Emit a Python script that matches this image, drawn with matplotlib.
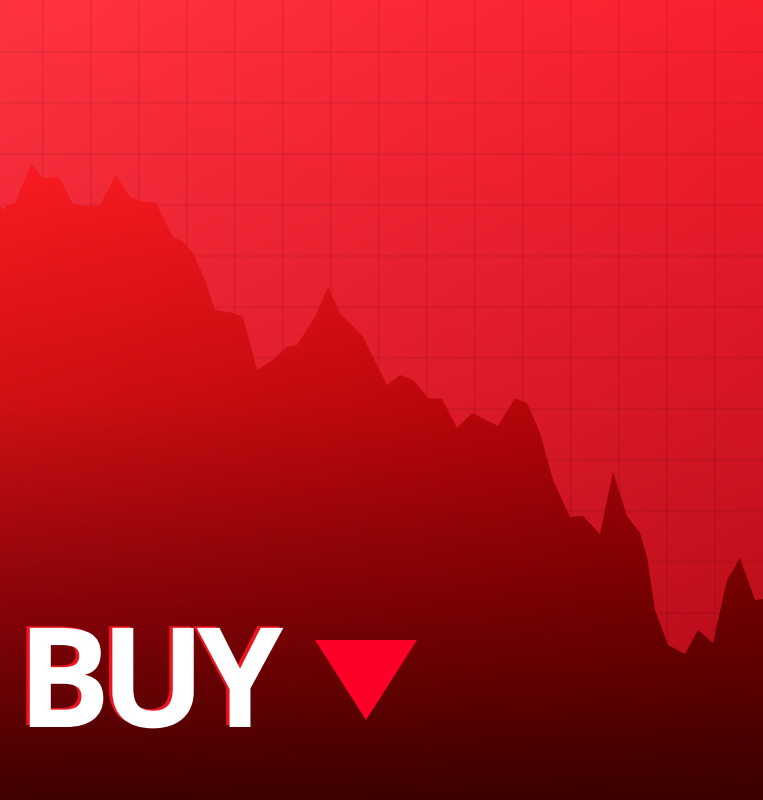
import numpy as np
import matplotlib
matplotlib.use('Agg')
import matplotlib.pyplot as plt
from matplotlib.patches import Polygon
import matplotlib.patheffects as pe

# ──────────────────────── DATA ─────────────────────────
# time axis (pixel-like units) and price level (0 at bottom, 800 at top)
t = [0, 3, 7, 15, 31, 43, 59, 73, 82, 100, 116, 130, 140, 156, 173, 182, 193,
     205, 215, 233, 243, 257, 273, 287, 297, 315, 328, 340, 350, 363, 373, 387,
     400, 413, 428, 442, 457, 472, 498, 515, 527, 540, 553, 570, 583, 600, 613,
     627, 640, 647, 655, 668, 685, 698, 713, 727, 740, 755, 763]
price = [595, 590, 595, 597, 636, 622, 623, 596, 594, 595, 625, 603, 599, 597,
         563, 559, 547, 520, 490, 487, 483, 430, 440, 453, 455, 483, 513, 487,
         477, 463, 443, 415, 425, 420, 402, 401, 372, 387, 374, 402, 397, 367,
         320, 283, 284, 266, 328, 284, 267, 243, 190, 155, 146, 170, 157, 220,
         242, 200, 201]

label = 'BUY'

W, H = 763, 800
grid_x = np.arange(43, W, 48)
grid_y = np.arange(748, 0, -51)

# gradient stops: (row from top, (r, g, b)) on left and right edges
bg_left = [(0, (255, 52, 66)), (400, (232, 35, 50)), (800, (200, 20, 35))]
bg_right = [(0, (250, 32, 48)), (400, (212, 22, 36)), (800, (172, 8, 20))]
area_left = [(160, (250, 28, 34)), (400, (208, 17, 21)), (600, (138, 4, 9)), (800, (62, 0, 0))]
area_right = [(160, (228, 16, 24)), (400, (172, 0, 6)), (600, (112, 0, 0)), (800, (58, 0, 0))]

# letter centres of the label, and the arrow triangle
letter_x = [64, 153, 240]
text_baseline = 73
arrow = [[315, 160], [417, 160], [366, 80]]


def edge_colors(stops):
    rows = np.arange(H)
    ys = [s[0] for s in stops]
    cols = np.array([s[1] for s in stops], dtype=float)
    return np.stack([np.interp(rows, ys, cols[:, c]) for c in range(3)], axis=1)


def gradient_image(left_stops, right_stops):
    left = edge_colors(left_stops)
    right = edge_colors(right_stops)
    frac = np.linspace(0, 1, W)[None, :, None]
    img = left[:, None, :] * (1 - frac) + right[:, None, :] * frac
    return np.clip(img / 255.0, 0, 1)


fig = plt.figure(figsize=(W / 100, H / 100), dpi=100)
ax = fig.add_axes([0, 0, 1, 1])
ax.set_xlim(0, W)
ax.set_ylim(0, H)
ax.axis('off')

# background
ax.imshow(gradient_image(bg_left, bg_right), extent=(0, W, 0, H),
          origin='upper', aspect='auto', zorder=0)

# grid
for gx in grid_x:
    ax.axvline(gx, color='black', alpha=0.055, lw=1.6, zorder=1)
for gy in grid_y:
    ax.axhline(gy, color='black', alpha=0.055, lw=1.6, zorder=1)

# area under price, filled with its own gradient
verts = np.column_stack([t, price])
verts = np.vstack([verts, [[t[-1], 0], [t[0], 0]]])
clip = Polygon(verts, closed=True, facecolor='none', edgecolor='none',
               transform=ax.transData)
ax.add_patch(clip)
im = ax.imshow(gradient_image(area_left, area_right), extent=(0, W, 0, H),
               origin='upper', aspect='auto', zorder=2)
im.set_clip_path(clip)

# label, letter by letter (tight spacing as in the artwork)
shadow = [pe.withSimplePatchShadow(offset=(-2.5, 1.2),
                                   shadow_rgbFace=(0.92, 0.08, 0.12), alpha=1.0)]
for ch, cx in zip(label, letter_x):
    ax.text(cx, text_baseline, ch, fontsize=100, fontweight='bold', color='white',
            family=['Open Sans', 'DejaVu Sans'], ha='center', va='baseline',
            zorder=5, path_effects=shadow)

# down arrow
ax.add_patch(Polygon(arrow, closed=True, facecolor='#ff0028',
                     edgecolor='none', zorder=5))

fig.savefig('out.png', dpi=100)
plt.close(fig)
